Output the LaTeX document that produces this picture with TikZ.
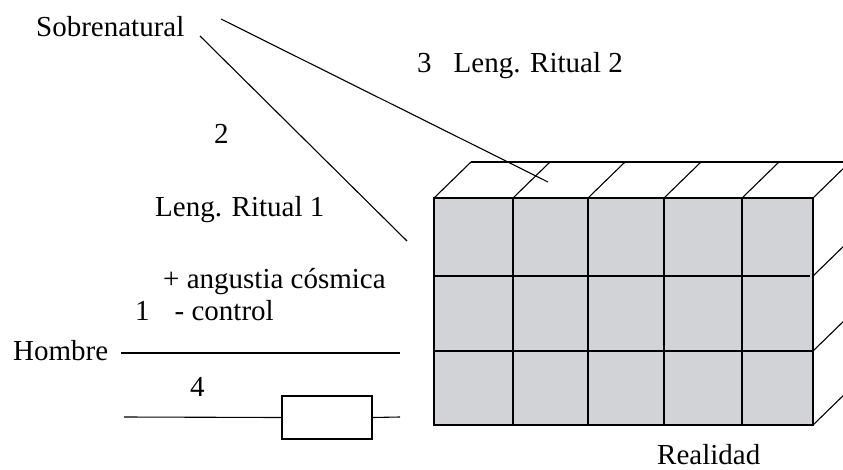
\documentclass[tikz,border=0pt]{standalone}
\usepackage{fontspec}
\setmainfont{Liberation Serif}
\definecolor{cellgray}{RGB}{210,211,214}
\begin{document}
\begin{tikzpicture}[x=1pt,y=-1pt,
  lbl/.style={anchor=base west,inner sep=0pt,font=\fontsize{29}{34}\selectfont},
  thinline/.style={line width=1.1pt},
  thickline/.style={line width=2.4pt},
  smallbox/.style={draw,line width=1.1pt,minimum width=90pt,minimum height=43pt,inner sep=0pt}]
\useasboundingbox (0,0) rectangle (843,469);
\clip (0,0) rectangle (843,469);
% texts
\node[lbl] (sobre) at (36,36) {Sobrenatural};
\node[lbl] (l3) at (417,72) {3\hspace{22pt}Leng. Ritual 2};
\node[lbl] (n2) at (214,143) {2};
\node[lbl] (l1) at (155,216) {Leng. Ritual 1};
\node[lbl] (ang) at (163,288) {+ angustia cósmica};
\node[lbl] (ctl) at (135,320) {1\hspace{25pt}- control};
\node[lbl] (hombre) at (13,360) {Hombre};
\node[lbl] (n4) at (190,396) {4};
\node[lbl] (real) at (657,464) {Realidad};
% coordinates
\coordinate (s1) at (221,19);
\coordinate (e1) at (548,182);
\coordinate (s2) at (200,36);
\coordinate (e2) at (407,241);
\coordinate (h1) at (121,353);
\coordinate (h2) at (400,353);
\coordinate (b1) at (124,417);
\coordinate (b2) at (400,417);
\node[smallbox] (blk) at (327,417.5) {};
% connectors
\draw[thinline] (s1) -- (e1);
\draw[thinline] (s2) -- (e2);
\draw[thinline] (h1) -- (h2);
\draw[thinline] (b1) -- (blk.west);
\draw[thinline] (blk.east) -- (b2);
% reality block
\fill[cellgray] (434,198) rectangle (813,425);
\foreach \x in {513,588,664,742} \draw[thinline] (\x,198) -- (\x,425);
\draw[thinline] (434,276) -- (810,276);
\draw[thinline] (434,351) -- (813,351);
\foreach \x in {434,513,588,664,742,813} \draw[thinline] (\x,198) -- ++(37,-36);
\foreach \y in {276,351,425} \draw[thinline] (813,\y) -- ++(37,-36);
\draw[thickline] (471,162) -- (860,162);
\draw[thickline] (434,198) rectangle (813,425);
\end{tikzpicture}
\end{document}
